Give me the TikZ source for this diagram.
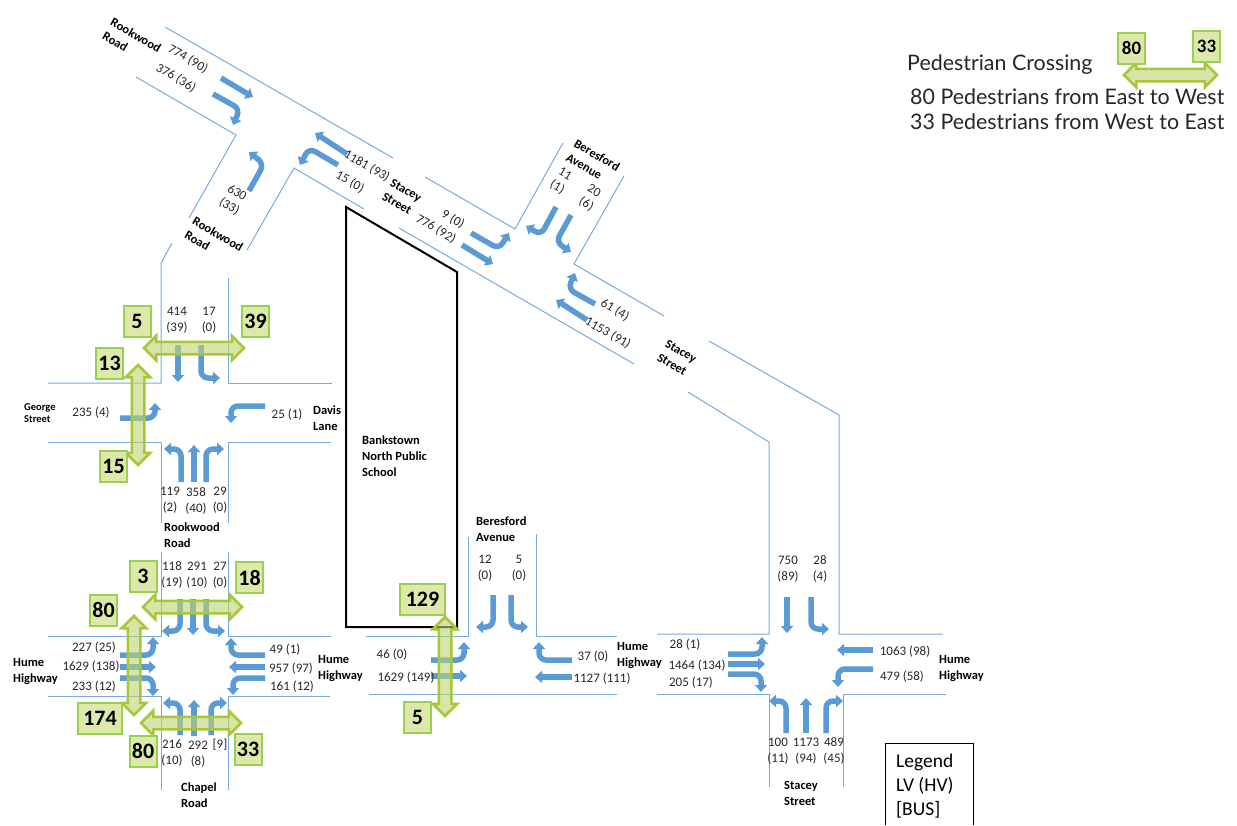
\documentclass[tikz,border=0pt]{standalone}
\usepackage{fontspec}
\setmainfont{Carlito}
\newfontfamily\notefont{Lato}
\usepackage{tikz}
\usetikzlibrary{shapes.arrows, arrows.meta}
\definecolor{roadline}{RGB}{120, 170, 222}
\definecolor{flowblue}{RGB}{91, 155, 213}
\definecolor{pedline}{RGB}{168, 198, 58}
\definecolor{pedfill}{RGB}{190, 212, 110}
\definecolor{boxline}{RGB}{150, 210, 80}
\definecolor{boxfill}{RGB}{221, 232, 170}
\tikzset{
  road/.style={draw=roadline, line width=1pt},
  flow/.style={draw=flowblue, line width=5.5pt, -{Triangle[width=12pt, length=7pt]}},
  turn/.style={flow, rounded corners=7pt},
  cnt/.style={font=\fontsize{13}{15.5}\selectfont, align=center, inner sep=0pt, text=black!85},
  cntd/.style={cnt, rotate=-30},
  roadname/.style={font=\fontsize{12.5}{16}\selectfont\bfseries, align=left, inner sep=0pt},
  roadnamed/.style={roadname, rotate=-30},
  pedbox/.style={draw=boxline, fill=boxfill, line width=2pt, inner sep=0pt,
    minimum width=27pt, minimum height=31pt, font=\fontsize{22}{22}\selectfont\bfseries},
  pedh/.style={double arrow, draw=pedline, fill=pedfill, fill opacity=0.6, line width=2.5pt,
    inner xsep=0pt, inner ysep=5pt, minimum width=23pt, double arrow head extend=6pt},
  pedv/.style={pedh, rotate=90},
  notetext/.style={font=\notefont\fontsize{21.4}{25}\selectfont, anchor=west, inner sep=0pt, text=black!85},
}
\begin{document}
\begin{tikzpicture}[x=1pt, y=-1pt]
  \useasboundingbox (0,0) rectangle (1237,825);
  % diagonal roads
  \draw[road] (165,27) -- (393,158);
  \draw[road] (425,177) -- (515,229) -- (563,143);
  \draw[road] (624,176) -- (574,264) -- (664,316);
  \draw[road] (709,341) -- (839,415) -- (839,634) -- (943,634);
  \draw[road] (136,77) -- (236,135) -- (189,218);
  \draw[road] (172,243) -- (161,263) -- (161,383) -- (48,383);
  \draw[road] (247,250) -- (294,168) -- (364,209);
  \draw[road] (399,228) -- (634,364);
  \draw[road] (688,392) -- (769,442) -- (769,634) -- (657,634);
  % Rookwood Road / George Street
  \draw[road] (228,278) -- (228,383) -- (332,383);
  \draw[road] (48,442) -- (161,442) -- (161,523);
  \draw[road] (331,442) -- (228,442) -- (228,523);
  % Hume Highway / Chapel Road
  \draw[road] (161,552) -- (161,636) -- (48,636);
  \draw[road] (228,552) -- (228,636) -- (331,636);
  \draw[road] (48,696) -- (161,696) -- (161,790);
  \draw[road] (330,696) -- (228,696) -- (228,790);
  % Hume Highway / Beresford Avenue
  \draw[road] (366,636) -- (468,636) -- (468,537);
  \draw[road] (536,534) -- (536,636) -- (617,636);
  \draw[road] (369,694) -- (617,694);
  % Hume Highway / Stacey Street
  \draw[road] (657,694) -- (769,694) -- (769,787);
  \draw[road] (946,694) -- (843,694) -- (843,787);
  % school
  \draw[black, line width=2pt] (346,207) -- (457,272) -- (457,627) -- (346,627) -- cycle;

  % flows, top junction
  \draw[flow] (221,78) -- (253,97);
  \draw[turn] (213,94) -- (240,109) -- (233,125);
  \draw[turn] (249,191) -- (264,164) -- (249,152);
  \draw[flow] (347,154) -- (315,133);
  \draw[turn] (338,165) -- (309,148) -- (300,165);
  % flows, Stacey Street / Beresford Avenue
  \draw[turn] (471,233) -- (499,249) -- (509,233);
  \draw[flow] (462,245) -- (493,264);
  \draw[turn] (556,207) -- (541,235) -- (526,226);
  \draw[turn] (571,215) -- (556,242) -- (571,252);
  \draw[turn] (595,304) -- (568,289) -- (575,273);
  \draw[flow] (587,320) -- (556,300);
  % flows, Rookwood Road / George Street
  \draw[flow] (178,345) -- (178,382);
  \draw[turn] (201,345) -- (201,378) -- (220,378);
  \draw[turn] (120,418) -- (155,418) -- (155,403);
  \draw[turn] (265,406) -- (231,406) -- (231,423);
  \draw[turn] (181,482) -- (181,449) -- (164,449);
  \draw[flow] (194,482) -- (194,445);
  \draw[turn] (206,482) -- (206,449) -- (224,449);
  % flows, Hume Highway / Chapel Road
  \draw[turn] (180,599) -- (180,631) -- (162,631);
  \draw[flow] (193,599) -- (193,635);
  \draw[turn] (206,599) -- (206,631) -- (225,631);
  \draw[turn] (120,655) -- (153,655) -- (153,637);
  \draw[flow] (120,667) -- (156,667);
  \draw[turn] (120,678) -- (153,678) -- (153,696);
  \draw[turn] (265,655) -- (231,655) -- (231,638);
  \draw[flow] (265,667) -- (229,667);
  \draw[turn] (265,678) -- (233,678) -- (233,695);
  \draw[turn] (180,735) -- (180,703) -- (163,703);
  \draw[flow] (194,736) -- (194,700);
  \draw[turn] (211,735) -- (211,703) -- (227,703);
  % flows, Hume Highway / Beresford Avenue
  \draw[turn] (493,595) -- (493,627) -- (476,627);
  \draw[turn] (511,595) -- (511,627) -- (528,627);
  \draw[turn] (431,660) -- (464,660) -- (464,642);
  \draw[flow] (431,676) -- (467,676);
  \draw[turn] (572,660) -- (539,660) -- (539,642);
  \draw[flow] (572,677) -- (535,677);
  % flows, Hume Highway / Stacey Street
  \draw[flow] (787,597) -- (787,633);
  \draw[turn] (811,597) -- (811,629) -- (829,629);
  \draw[turn] (728,654) -- (762,654) -- (762,637);
  \draw[flow] (728,664) -- (765,664);
  \draw[turn] (728,674) -- (761,674) -- (761,692);
  \draw[flow] (873,650) -- (837,650);
  \draw[turn] (873,669) -- (838,669) -- (838,687);
  \draw[turn] (786,733) -- (786,701) -- (769,701);
  \draw[flow] (806,733) -- (806,698);
  \draw[turn] (826,733) -- (826,701) -- (843,701);

  % pedestrian crossings
  \node[pedh, minimum height=100pt] (crossA) at (194,348) {};
  \node[pedv, minimum height=100pt] (crossB) at (138,415) {};
  \node[pedh, minimum height=99pt] (crossC) at (192.5,607) {};
  \node[pedv, minimum height=99pt] (crossD) at (134,665.5) {};
  \node[pedh, minimum height=100pt] (crossE) at (191,723) {};
  \node[pedv, minimum height=99pt] (crossF) at (445,666.5) {};
  \node[pedh, minimum height=93pt] (crossKey) at (1170.5,75) {};
  \node[pedbox] (boxA) at (137,321.5) {5};
  \node[pedbox] (boxB) at (255.5,321.5) {39};
  \node[pedbox] (boxC) at (109.5,363) {13};
  \node[pedbox] (boxD) at (113.5,466) {15};
  \node[pedbox] (boxE) at (143,576) {3};
  \node[pedbox] (boxF) at (249.5,577.5) {18};
  \node[pedbox] (boxG) at (103.5,610) {80};
  \node[pedbox, minimum width=44pt] (boxH) at (100,718) {174};
  \node[pedbox] (boxI) at (143,751) {80};
  \node[pedbox] (boxJ) at (248,749) {33};
  \node[pedbox, minimum width=45pt] (boxK) at (422.5,599) {129};
  \node[pedbox] (boxL) at (417.5,717) {5};
  \node[pedbox, font=\fontsize{19}{19}\selectfont\bfseries] (boxKeyA) at (1131.5,48.5) {80};
  \node[pedbox, font=\fontsize{19}{19}\selectfont\bfseries] (boxKeyB) at (1206.5,46.5) {33};

  % counts, top junction
  \node[cntd] (cntA) at (188,59) {774 (90)};
  \node[cntd] (cntB) at (176,78) {376 (36)};
  \node[cntd] (cntC) at (367,166) {1181 (93)};
  \node[cntd] (cntD) at (350,182) {15 (0)};
  \node[cntd] (cntE) at (233,200) {630\\(33)};
  % counts, Stacey Street / Beresford Avenue
  \node[cntd] (cntF) at (453,219) {9 (0)};
  \node[cntd] (cntG) at (436,229) {776 (92)};
  \node[cntd] (cntH) at (561,181) {11\\(1)};
  \node[cntd] (cntI) at (590,198) {20\\(6)};
  \node[cntd] (cntJ) at (615,310) {61 (4)};
  \node[cntd] (cntK) at (608,333) {1153 (91)};
  % counts, Rookwood Road / George Street
  \node[cnt] (cntL) at (177,320) {414\\(39)};
  \node[cnt] (cntM) at (209,320) {17\\(0)};
  \node[cnt] (cntN) at (91,413) {235 (4)};
  \node[cnt] (cntO) at (287,415) {25 (1)};
  \node[cnt] (cntP) at (170,500) {119\\(2)};
  \node[cnt] (cntQ) at (196,501) {358\\(40)};
  \node[cnt] (cntR) at (220,500) {29\\(0)};
  % counts, Hume Highway / Chapel Road
  \node[cnt] (cntS) at (172,575) {118\\(19)};
  \node[cnt] (cntT) at (197,575) {291\\(10)};
  \node[cnt] (cntU) at (220,575) {27\\(0)};
  \node[cnt] (cntV) at (94,648) {227 (25)};
  \node[cnt] (cntW) at (91,667) {1629 (138)};
  \node[cnt] (cntX) at (94,687) {233 (12)};
  \node[cnt] (cntY) at (285,650) {49 (1)};
  \node[cnt] (cntZ) at (291,669) {957 (97)};
  \node[cnt] (cntAA) at (292,687) {161 (12)};
  \node[cnt] (cntAB) at (172,753) {216\\(10)};
  \node[cnt] (cntAC) at (198,754) {292\\(8)};
  \node[cnt] (cntAD) at (220,745) {[9]};
  % counts, Hume Highway / Beresford Avenue
  \node[cnt] (cntAE) at (485,568) {12\\(0)};
  \node[cnt] (cntAF) at (519,568) {5\\(0)};
  \node[cnt] (cntAG) at (392,655) {46 (0)};
  \node[cnt] (cntAH) at (406,678) {1629 (149)};
  \node[cnt] (cntAI) at (593,657) {37 (0)};
  \node[cnt] (cntAJ) at (602,679) {1127 (111)};
  % counts, Hume Highway / Stacey Street
  \node[cnt] (cntAK) at (788,569) {750\\(89)};
  \node[cnt] (cntAL) at (820,569) {28\\(4)};
  \node[cnt] (cntAM) at (685,645) {28 (1)};
  \node[cnt] (cntAN) at (697,666) {1464 (134)};
  \node[cnt] (cntAO) at (691,683) {205 (17)};
  \node[cnt] (cntAP) at (905,652) {1063 (98)};
  \node[cnt] (cntAQ) at (902,677) {479 (58)};
  \node[cnt] (cntAR) at (778,751) {100\\(11)};
  \node[cnt] (cntAS) at (806,751) {1173\\(94)};
  \node[cnt] (cntAT) at (834,751) {489\\(45)};

  % road names
  \node[roadnamed] (nameA) at (132,42) {Rookwood\\Road};
  \node[roadnamed] (nameB) at (214,241) {Rookwood\\Road};
  \node[roadnamed] (nameC) at (402,197) {Stacey\\Street};
  \node[roadnamed] (nameD) at (593,162) {Beresford\\Avenue};
  \node[roadnamed] (nameE) at (677,358) {Stacey\\Street};
  \node[roadname, font=\fontsize{10.5}{12}\selectfont\bfseries, anchor=west] (nameF) at (24,413) {George\\Street};
  \node[roadname, anchor=west] (nameG) at (313,418) {Davis\\Lane};
  \node[roadname, anchor=west] (nameH) at (164,535) {Rookwood\\Road};
  \node[roadname, anchor=west] (nameI) at (13,671) {Hume\\Highway};
  \node[roadname, anchor=west] (nameJ) at (318,668) {Hume\\Highway};
  \node[roadname, anchor=west] (nameK) at (181,795) {Chapel\\Road};
  \node[roadname, anchor=west] (nameL) at (476,529) {Beresford\\Avenue};
  \node[roadname, anchor=west] (nameM) at (617,655) {Hume\\Highway};
  \node[roadname, anchor=west] (nameN) at (939,668) {Hume\\Highway};
  \node[roadname, anchor=west] (nameO) at (784,793) {Stacey\\Street};
  \node[roadname, anchor=west] (nameSchool) at (362,456.5) {Bankstown\\North Public\\School};

  % keys
  \node[notetext] (noteA) at (907,65) {Pedestrian Crossing};
  \node[notetext] (noteB) at (910,97) {80 Pedestrians from East to West};
  \node[notetext] (noteC) at (910,122) {33 Pedestrians from West to East};
  \draw[black, line width=1pt] (885,825) -- (885,743) -- (973,743) -- (973,825);
  \node[font=\fontsize{19.5}{24}\selectfont, anchor=west, align=left, inner sep=0pt] (legendKey) at (896,786) {Legend\\LV (HV)\\{[BUS]}};
\end{tikzpicture}
\end{document}
